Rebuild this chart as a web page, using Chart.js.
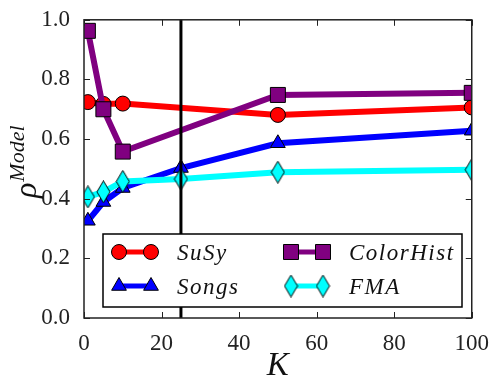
<!DOCTYPE html>
<html>
<head>
<meta charset="utf-8">
<script src="https://cdn.jsdelivr.net/npm/chart.js@4"></script>
<style>
  html, body { margin: 0; padding: 0; background: #fff; }
  #wrap { width: 493px; height: 380px; }
</style>
</head>
<body>
<div id="wrap"><canvas id="chart"></canvas></div>
<script>
// datos
const kFull = [1, 5, 10, 25, 50, 100];
const kShort = [1, 5, 10, 50, 100];
const susy = [0.724, 0.718, 0.719, 0.681, 0.706];
const colorHist = [0.963, 0.700, 0.558, 0.748, 0.755];
const songs = [0.326, 0.389, 0.436, 0.503, 0.586, 0.628];
const fma = [0.406, 0.423, 0.458, 0.466, 0.489, 0.497];
const xTicks = [0, 20, 40, 60, 80, 100];
const yTicks = [0.0, 0.2, 0.4, 0.6, 0.8, 1.0];
const vLineK = 25;

const SERIF = '"Liberation Serif", serif';
Chart.defaults.font.family = SERIF;

function pts(xs, ys) {
  return xs.map((x, i) => ({ x: x, y: ys[i] }));
}

// rombo delgado como en matplotlib ('d')
const diamond = document.createElement('canvas');
diamond.width = 15;
diamond.height = 23;
(function () {
  const c = diamond.getContext('2d');
  c.beginPath();
  c.moveTo(7.5, 0.5);
  c.lineTo(14, 11.5);
  c.lineTo(7.5, 22.5);
  c.lineTo(1, 11.5);
  c.closePath();
  c.fillStyle = '#00ffff';
  c.fill();
  c.lineWidth = 1;
  c.strokeStyle = '#000';
  c.stroke();
})();

function serie(label, data, color, style, radius, order) {
  return {
    label: label,
    data: data,
    borderColor: color,
    backgroundColor: color,
    borderWidth: 6,
    pointStyle: style,
    pointRadius: radius,
    pointHoverRadius: radius,
    pointBackgroundColor: color,
    pointBorderColor: '#000',
    pointBorderWidth: 1,
    tension: 0,
    order: order,
  };
}

const datasets = [
  serie('SuSy', pts(kShort, susy), '#ff0000', 'circle', 7.5, 4),
  serie('Songs', pts(kFull, songs), '#0000ff', 'triangle', 8.5, 2),
  serie('ColorHist', pts(kShort, colorHist), '#800080', 'rect', 10.6, 3),
  serie('FMA', pts(kFull, fma), '#00ffff', diamond, 11, 1),
];

// caja, ticks hacia dentro, linea vertical, leyenda y titulos
const decor = {
  id: 'decor',
  afterDatasetsDraw(chart) {
    const { ctx, chartArea: a, scales } = chart;
    const x = scales.x, y = scales.y;
    ctx.save();
    // linea vertical en K=25
    ctx.strokeStyle = '#000';
    ctx.lineWidth = 3;
    ctx.beginPath();
    ctx.moveTo(x.getPixelForValue(vLineK), a.top);
    ctx.lineTo(x.getPixelForValue(vLineK), a.bottom);
    ctx.stroke();

    // marco
    ctx.lineWidth = 1.5;
    ctx.strokeStyle = '#222';
    ctx.strokeRect(a.left, a.top, a.right - a.left, a.bottom - a.top);
    ctx.lineWidth = 1;
    ctx.beginPath();
    xTicks.forEach(v => {
      const px = Math.round(x.getPixelForValue(v)) + 0.5;
      ctx.moveTo(px, a.bottom); ctx.lineTo(px, a.bottom - 6);
      ctx.moveTo(px, a.top); ctx.lineTo(px, a.top + 6);
    });
    yTicks.forEach(v => {
      const py = Math.round(y.getPixelForValue(v)) + 0.5;
      ctx.moveTo(a.left, py); ctx.lineTo(a.left + 6, py);
      ctx.moveTo(a.right, py); ctx.lineTo(a.right - 6, py);
    });
    ctx.stroke();

    // leyenda
    const lx = 103, ly = 234, lw = 359, lh = 73;
    ctx.fillStyle = '#fff';
    ctx.fillRect(lx, ly, lw, lh);
    ctx.lineWidth = 1.5;
    ctx.strokeStyle = '#000';
    ctx.strokeRect(lx, ly, lw, lh);
    const slots = [
      { x: 119, y: 252 }, { x: 119, y: 286 },
      { x: 291, y: 252 }, { x: 291, y: 286 },
    ];
    chart.data.datasets.forEach((ds, i) => {
      const s = slots[i];
      ctx.strokeStyle = ds.borderColor;
      ctx.lineWidth = 5;
      ctx.beginPath();
      ctx.moveTo(s.x, s.y); ctx.lineTo(s.x + 32, s.y);
      ctx.stroke();
      [s.x, s.x + 32].forEach(mx => {
        if (ds.pointStyle instanceof HTMLCanvasElement) {
          ctx.drawImage(ds.pointStyle, mx - ds.pointStyle.width / 2, s.y - ds.pointStyle.height / 2);
        } else {
          ctx.fillStyle = ds.pointBackgroundColor;
          ctx.strokeStyle = '#000';
          ctx.lineWidth = 1;
          Chart.helpers.drawPoint(ctx, { pointStyle: ds.pointStyle, radius: ds.pointRadius, borderWidth: 1, rotation: 0 }, mx, s.y);
        }
      });
      ctx.fillStyle = '#111';
      ctx.font = 'italic 23px ' + SERIF;
      ctx.textBaseline = 'alphabetic';
      ctx.textAlign = 'left';
      ctx.letterSpacing = '1.5px';
      ctx.fillText(ds.label, s.x + 58, s.y + 8);
    });
    ctx.letterSpacing = '0px';

    // titulo eje y: rho^Model
    ctx.save();
    ctx.translate(36, 198);
    ctx.rotate(-Math.PI / 2);
    ctx.fillStyle = '#111';
    ctx.textAlign = 'left';
    ctx.textBaseline = 'alphabetic';
    ctx.font = 'italic 32px ' + SERIF;
    ctx.fillText('ρ', 0, 0);
    const rw = ctx.measureText('ρ').width;
    ctx.font = 'italic 22px ' + SERIF;
    ctx.fillText('Model', rw + 1, -12);
    ctx.restore();

    // titulo eje x
    ctx.font = 'italic 33px ' + SERIF;
    ctx.textAlign = 'center';
    ctx.textBaseline = 'alphabetic';
    ctx.fillStyle = '#111';
    ctx.fillText('K', (a.left + a.right) / 2, 375);
    ctx.restore();
  }
};

new Chart(document.getElementById('chart'), {
  type: 'line',
  data: { datasets: datasets },
  options: {
    responsive: true,
    maintainAspectRatio: false,
    animation: false,
    events: [],
    layout: { padding: { top: 16, right: 19, left: 0, bottom: 0 } },
    plugins: {
      legend: { display: false },
      tooltip: { enabled: false },
    },
    scales: {
      x: {
        type: 'linear',
        min: 0,
        max: 100,
        afterFit: s => { s.height = 62; },
        afterBuildTicks: s => { s.ticks = xTicks.map(v => ({ value: v })); },
        grid: { display: false },
        border: { display: false },
        ticks: { color: '#222', font: { family: SERIF, size: 23 }, padding: 4, maxRotation: 0 },
      },
      y: {
        type: 'linear',
        min: 0,
        max: 1,
        afterFit: s => { s.width = 84; },
        afterBuildTicks: s => { s.ticks = yTicks.map(v => ({ value: v })); },
        grid: { display: false },
        border: { display: false },
        ticks: {
          color: '#222',
          font: { family: SERIF, size: 23 },
          padding: 6,
          callback: v => Number(v).toFixed(1),
        },
      },
    },
  },
  plugins: [decor],
});
</script>
</body>
</html>
